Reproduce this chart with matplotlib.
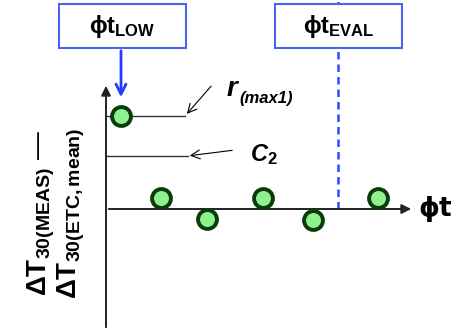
import matplotlib
matplotlib.use("Agg")
import matplotlib.pyplot as plt
from matplotlib.patches import Rectangle

plt.rcParams['font.family'] = ['Liberation Sans', 'DejaVu Sans']
plt.rcParams['mathtext.fontset'] = 'custom'
plt.rcParams['mathtext.rm'] = 'Liberation Sans:bold'
plt.rcParams['mathtext.bf'] = 'Liberation Sans:bold'
plt.rcParams['mathtext.it'] = 'Liberation Sans:bold:italic'

# schematic data (phi t, deviation)
phi_t = [1.5, 5.5, 10.1, 15.7, 20.7, 27.2]
dev = [9.3, 1.1, -1.0, 1.1, -1.1, 1.1]
r_max1 = 9.3
c2 = 5.3
t_low = 1.5
t_eval = 23.2

fig = plt.figure(figsize=(4.62, 3.31), dpi=100)
ax = fig.add_axes([0, 0, 1, 1])
ax.set_xlim(-10.6, 35.6)
ax.set_ylim(-12.2, 20.9)
ax.axis('off')

# axes arrows
ax.annotate('', xy=(0, 12.6), xytext=(0, -12.1),
            arrowprops=dict(arrowstyle='-|>', color='#222222', lw=1.4, mutation_scale=14))
ax.annotate('', xy=(30.8, 0), xytext=(0, 0),
            arrowprops=dict(arrowstyle='-|>', color='#222222', lw=1.4, mutation_scale=14))
ax.text(31.2, 0, 'ϕt', fontsize=19, fontweight='bold', va='center', ha='left',
        family=['DejaVu Sans'])

# eval dashed line
ax.plot([t_eval, t_eval], [0, 20.9], color='#2a4bff', lw=1.8, ls=(0, (3, 2)), zorder=1)

# reference lines
ax.plot([0, 7.9], [r_max1, r_max1], color='#333333', lw=1)
ax.plot([0, 8.2], [c2, c2], color='#333333', lw=1)
ax.annotate('', xy=(7.9, r_max1), xytext=(10.7, 12.5),
            arrowprops=dict(arrowstyle='->', color='black', lw=0.8, mutation_scale=16))
ax.annotate('', xy=(8.1, c2), xytext=(12.9, 5.9),
            arrowprops=dict(arrowstyle='->', color='black', lw=0.8, mutation_scale=16))
ax.text(12.1, 12.0, 'r', fontsize=20, fontweight='bold', fontstyle='italic',
        va='center', ha='left')
ax.text(13.3, 11.0, '(max1)', fontsize=12, fontweight='bold', fontstyle='italic',
        va='center', ha='left')
ax.text(14.4, 5.4, r'$C_2$', fontsize=17, va='center', ha='left')

# points
ax.scatter(phi_t, dev, s=185, facecolor='#8ff08f', edgecolor='#0a3d0a', linewidth=2.8, zorder=5)

# boxes
for x0, lbl in [(-4.7, r'$\mathbf{\phi t_{LOW}}$'), (16.9, r'$\mathbf{\phi t_{EVAL}}$')]:
    ax.add_patch(Rectangle((x0, 16.1), 12.7, 4.4, facecolor='white', edgecolor='#4a63f0',
                           lw=1.5, zorder=3))
    ax.text(x0 + 6.35, 18.2, lbl, fontsize=17, ha='center', va='center', zorder=4)

ax.annotate('', xy=(t_low, 10.9), xytext=(t_low, 16.1),
            arrowprops=dict(arrowstyle='->', color='#1f3cff', lw=2, mutation_scale=18))

# y label
ax.text(-6.5, -0.4, r'$\Delta\mathrm{T}_{\mathrm{30(MEAS)}}$ —', fontsize=20, rotation=90,
        ha='center', va='center')
ax.text(-3.5, -0.4, r'$\Delta\mathrm{T}_{\mathrm{30(ETC,mean)}}$', fontsize=20, rotation=90,
        ha='center', va='center')

fig.savefig('out.png', dpi=100)
